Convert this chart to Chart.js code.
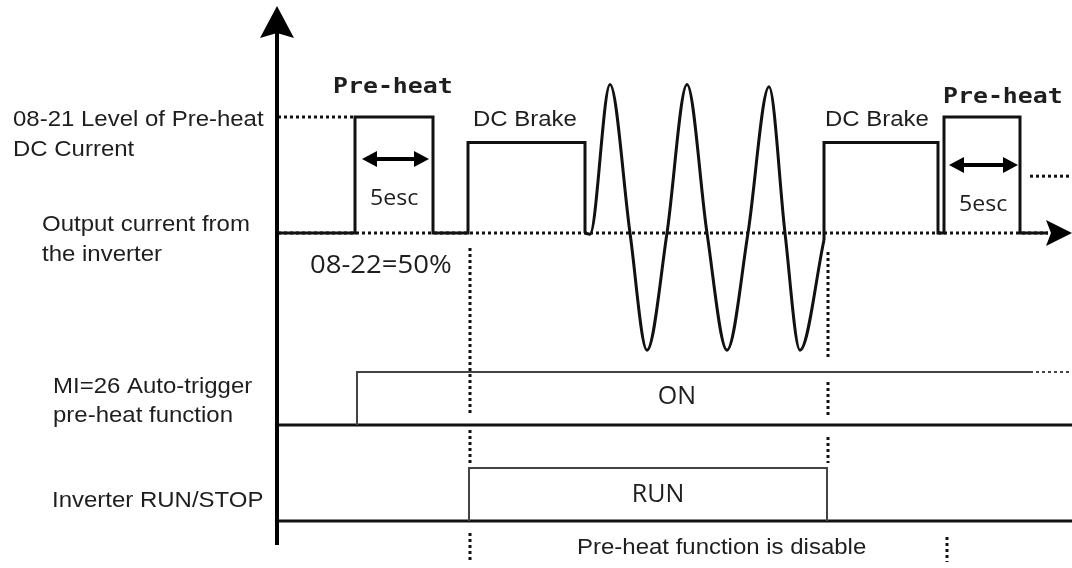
<!DOCTYPE html>
<html>
<head>
<meta charset="utf-8">
<script src="https://cdn.jsdelivr.net/npm/chart.js@4.4.1/dist/chart.umd.min.js"></script>
<style>
  html, body { margin: 0; padding: 0; background: #fff; }
  #wrap { position: relative; width: 1072px; height: 568px; }
</style>
</head>
<body>
<div id="wrap"><canvas id="timing" width="1072" height="568"></canvas></div>
<script>
// time base: t = 0 sits on the vertical axis
const T_MIN = -276, T_MAX = 796;

// output current, in % of the 08-21 pre-heat level
const preheatTimes   = [2, 79, 79, 157, 157, 192, 192, 309, 309];
const preheatLevels  = [0, 0, 100, 100, 0, 0, 78, 78, 0];
const runWaveTimes   = [309, 314, 334, 354, 371, 391, 411, 431, 451, 472, 493, 509, 524, 548];
const runWaveLevels  = [0, -1, 128, 0, -101, 0, 128, 0, -101, 0, 126, 0, -101, -6];
const brakeTimes     = [548, 548, 662, 662, 668, 668, 744, 744, 772];
const brakeLevels    = [-6, 78, 78, 0, 0, 100, 100, 0, 0];

// dotted reference levels
const levelRefTimes  = [2, 79];      // 08-21 level
const zeroRefTimes   = [2, 772];     // 0 A
const tailRefTimes   = [754, 796];
const tailRefLevel   = 49;

// MI=26 auto-trigger (0 = OFF, 1 = ON)
const miTimes        = [81, 81, 754];
const miStates       = [0, 1, 1];
const miTailTimes    = [754, 796];
// inverter RUN/STOP
const runTimes       = [193, 193, 551, 551];
const runStates      = [0, 1, 1, 0];
const rowBaseTimes   = [0, 796];

// dotted event markers
const markerTimes    = [194, 552, 671];

const pts = (ts, vs) => ts.map((t, i) => ({ x: t, y: vs[i] }));
const flat = (ts, v) => ts.map(t => ({ x: t, y: v }));

const INK = '#111';
const TXT = '#1e1e1e';

function line(data, yAxisID, extra) {
    return Object.assign({
        data, yAxisID,
        borderColor: INK, borderWidth: 3,
        pointRadius: 0, tension: 0,
        borderJoinStyle: 'miter', borderCapStyle: 'butt',
        fill: false, order: 1
    }, extra || {});
}

const datasets = [
    line(pts(preheatTimes, preheatLevels), 'yI'),
    line(pts(runWaveTimes, runWaveLevels), 'yI', { cubicInterpolationMode: 'monotone', borderJoinStyle: 'round' }),
    line(pts(brakeTimes, brakeLevels), 'yI'),
    line(flat(levelRefTimes, 100), 'yI', { borderDash: [3, 3], order: 2 }),
    line(flat(zeroRefTimes, 0), 'yI', { borderDash: [3, 3], order: 2 }),
    line(flat(tailRefTimes, tailRefLevel), 'yI', { borderDash: [3, 3], order: 2 }),
    line(pts(miTimes, miStates), 'yMI', { borderWidth: 2, borderColor: '#444' }),
    line(flat(miTailTimes, 1), 'yMI', { borderWidth: 2, borderColor: '#444', borderDash: [3, 3] }),
    line(flat(rowBaseTimes, 0), 'yMI', { borderWidth: 3 }),
    line(pts(runTimes, runStates), 'yRun', { borderWidth: 2, borderColor: '#444' }),
    line(flat(rowBaseTimes, 0), 'yRun', { borderWidth: 3 })
];

// text with a slight horizontal stretch, like the source artwork
function txt(ctx, s, x, y, font, sx, align) {
    ctx.save();
    ctx.font = font;
    ctx.fillStyle = TXT;
    ctx.textBaseline = 'middle';
    ctx.textAlign = 'left';
    const w = ctx.measureText(s).width * sx;
    const left = align === 'center' ? x - w / 2 : x;
    ctx.translate(left, y);
    ctx.scale(sx, 1);
    ctx.fillText(s, 0, 0);
    ctx.restore();
}

function dblArrow(ctx, x1, x2, y) {
    ctx.save();
    ctx.fillStyle = '#000';
    ctx.strokeStyle = '#000';
    ctx.lineWidth = 4;
    ctx.beginPath();
    ctx.moveTo(x1 + 10, y); ctx.lineTo(x2 - 10, y);
    ctx.stroke();
    ctx.beginPath();
    ctx.moveTo(x1, y); ctx.lineTo(x1 + 15, y - 8); ctx.lineTo(x1 + 15, y + 8); ctx.closePath();
    ctx.moveTo(x2, y); ctx.lineTo(x2 - 15, y - 8); ctx.lineTo(x2 - 15, y + 8); ctx.closePath();
    ctx.fill();
    ctx.restore();
}

const decor = {
    id: 'decor',
    afterDatasetsDraw(chart) {
        const { ctx, scales } = chart;
        const xs = scales.x, yI = scales.yI;
        const ax = xs.getPixelForValue(0) + 1;
        const y0 = yI.getPixelForValue(0);

        // vertical axis with arrow
        ctx.save();
        ctx.fillStyle = '#000';
        ctx.fillRect(ax - 2, 30, 4, 515);
        ctx.beginPath();
        ctx.moveTo(ax, 6); ctx.lineTo(ax + 17, 38); ctx.lineTo(ax, 33); ctx.lineTo(ax - 17, 38);
        ctx.closePath(); ctx.fill();
        // time arrow on the current baseline
        const tip = xs.getPixelForValue(T_MAX);
        ctx.beginPath();
        ctx.moveTo(tip, y0); ctx.lineTo(tip - 26, y0 - 13); ctx.lineTo(tip - 21, y0); ctx.lineTo(tip - 26, y0 + 13);
        ctx.closePath(); ctx.fill();
        ctx.restore();

        // dotted event markers
        const segs = [
            [[248, 415], [430, 463], [533, 560]],
            [[252, 360], [382, 415], [437, 463]],
            [[537, 562]]
        ];
        ctx.save();
        ctx.strokeStyle = INK;
        ctx.lineWidth = 3;
        ctx.setLineDash([3, 3]);
        markerTimes.forEach((t, i) => {
            const px = xs.getPixelForValue(t);
            segs[i].forEach(([a, b]) => {
                ctx.beginPath(); ctx.moveTo(px, a); ctx.lineTo(px, b); ctx.stroke();
            });
        });
        ctx.restore();

        // 5 s pre-heat spans
        dblArrow(ctx, xs.getPixelForValue(86), xs.getPixelForValue(153), 159);
        dblArrow(ctx, xs.getPixelForValue(673), xs.getPixelForValue(742), 165);

        const ARIAL = '22px "Liberation Sans", Arial, sans-serif';
        const MONO = 'bold 22px "DejaVu Sans Mono", monospace';
        const CAL = '"Open Sans", "Noto Sans", sans-serif';
        txt(ctx, '08-21 Level of Pre-heat', 13, 120, ARIAL, 1.09);
        txt(ctx, 'DC Current', 13, 150, ARIAL, 1.09);
        txt(ctx, 'Output current from', 42, 225, ARIAL, 1.09);
        txt(ctx, 'the inverter', 42, 255, ARIAL, 1.09);
        txt(ctx, 'MI=26 Auto-trigger', 53, 387, ARIAL, 1.09);
        txt(ctx, 'pre-heat function', 53, 416, ARIAL, 1.09);
        txt(ctx, 'Inverter RUN/STOP', 52, 501, ARIAL, 1.09);
        txt(ctx, 'Pre-heat function is disable', 577, 548, ARIAL, 1.09);

        txt(ctx, 'Pre-heat', 333, 87, MONO, 1.13);
        txt(ctx, 'Pre-heat', 943, 97, MONO, 1.13);
        txt(ctx, 'DC Brake', 473, 120, ARIAL, 1.09);
        txt(ctx, 'DC Brake', 825, 120, ARIAL, 1.09);
        txt(ctx, '5esc', 370, 199, '21px ' + CAL, 1.1);
        txt(ctx, '5esc', 959, 205, '21px ' + CAL, 1.1);
        txt(ctx, '08-22=50%', 310, 266, '25px ' + CAL, 1.1);
        txt(ctx, 'ON', 677, 397, '25px ' + CAL, 1, 'center');
        txt(ctx, 'RUN', 658, 495, '25px ' + CAL, 1, 'center');
    }
};

new Chart(document.getElementById('timing'), {
    type: 'line',
    data: { datasets },
    options: {
        responsive: false,
        animation: false,
        devicePixelRatio: 1,
        layout: { padding: 0 },
        plugins: { legend: { display: false }, tooltip: { enabled: false } },
        scales: {
            x:    { type: 'linear', display: false, min: T_MIN, max: T_MAX },
            yI:   { type: 'linear', display: false, min: -288.79, max: 200.86 },
            yMI:  { type: 'linear', display: false, min: -2.698, max: 8.019 },
            yRun: { type: 'linear', display: false, min: -0.887, max: 9.83 }
        }
    },
    plugins: [decor]
});
</script>
</body>
</html>
